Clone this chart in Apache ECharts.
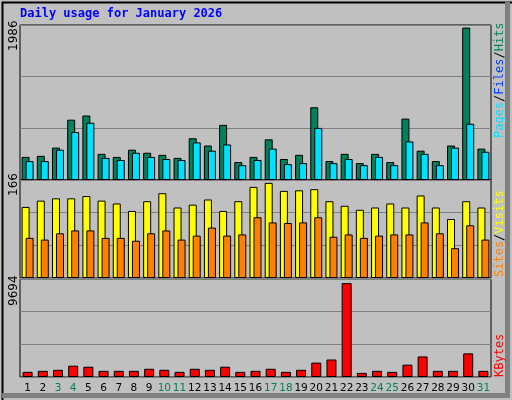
<!DOCTYPE html>
<html><head><meta charset="utf-8">
<script src="https://cdn.jsdelivr.net/npm/echarts@6/dist/echarts.min.js"></script>
<style>
html,body{margin:0;padding:0;background:#fff}
#c{width:512px;height:400px;}
</style></head><body><div id="c"></div>
<script>
const days = ['1','2','3','4','5','6','7','8','9','10','11','12','13','14','15','16','17','18','19','20','21','22','23','24','25','26','27','28','29','30','31'];
const weekend = ['3','4','10','11','17','18','24','25','31'];
const hits = [301,315,422,786,840,341,301,395,355,328,288,544,449,719,234,301,530,274,328,948,247,341,220,341,234,800,382,247,449,1986,409];
const files = [247,247,395,625,746,288,261,355,301,274,261,490,382,463,193,261,409,207,220,679,220,274,193,301,193,503,341,193,422,733,368];
const pages = [85,85,95,110,95,95,90,80,110,110,95,110,120,110,95,110,110,110,110,135,110,140,80,95,100,130,140,110,85,110,100];
const sites = [124,135,139,139,143,135,130,117,134,148,123,128,137,117,134,159,166,152,153,155,134,126,119,123,130,123,144,123,103,134,123];
const visits = [70,67,78,83,83,70,70,65,78,83,67,74,88,74,76,106,97,96,97,106,72,76,70,74,76,76,97,78,52,92,67];
const kbytes = [531,637,743,1168,1061,637,637,637,849,743,531,849,743,1061,531,637,849,531,743,1486,1804,9694,425,637,531,1274,2123,637,637,2441,637];

const ch = echarts.init(document.getElementById('c'));
const grids = [
  {left:20,right:21,top:25,height:155},
  {left:20,right:21,top:180,height:98},
  {left:20,right:21,top:279,height:98}
].map(g=>Object.assign(g,{show:true,backgroundColor:'#c0c0c0',borderColor:'#000',borderWidth:1}));
const maxes=[2020,171,10120];
function xa(i,show){return {type:'category',gridIndex:i,data:days,show:show,boundaryGap:true,
  axisLine:{show:false},axisTick:{show:false},
  axisLabel:{show:show,interval:0,hideOverlap:false,margin:6,fontFamily:'DejaVu Sans',fontSize:10.5,
    color:function(v){return weekend.indexOf(v)>=0?'#00805c':'#000';}}};}
function ya(i){return {type:'value',gridIndex:i,min:0,max:maxes[i],interval:maxes[i]/3,
  axisLabel:{show:false},axisLine:{show:false},axisTick:{show:false},
  splitLine:{show:true,lineStyle:{color:'#808080',width:1}}};}
const bs={borderColor:'#000',borderWidth:1};
const mono='12px "DejaVu Sans Mono"';
function vt(x,y,style){return {type:'text',x:x,y:y,rotation:Math.PI/2,style:Object.assign({font:mono,verticalAlign:'top',align:'left'},style)};}
ch.setOption({
  backgroundColor:'#c0c0c0',
  animation:false,
  grid:grids,
  xAxis:[xa(0,false),xa(1,false),xa(2,true),xa(0,false)],
  yAxis:[ya(0),ya(1),ya(2),Object.assign(ya(0),{show:false})],
  series:[
    {type:'bar',xAxisIndex:0,yAxisIndex:0,data:hits,barWidth:8,barGap:'-50%',itemStyle:Object.assign({color:'#00805c'},bs)},
    {type:'bar',xAxisIndex:0,yAxisIndex:0,data:files,barWidth:8,barGap:'-50%',itemStyle:Object.assign({color:'#00e0ff'},bs)},
    {type:'bar',xAxisIndex:3,yAxisIndex:3,data:pages,barWidth:2,z:1,itemStyle:{color:'#0040ff',borderColor:'#000',borderWidth:0.5}},
    {type:'bar',xAxisIndex:1,yAxisIndex:1,data:sites,barWidth:8,barGap:'-50%',itemStyle:Object.assign({color:'#ffff00'},bs)},
    {type:'bar',xAxisIndex:1,yAxisIndex:1,data:visits,barWidth:8,barGap:'-50%',itemStyle:Object.assign({color:'#ff8000'},bs)},
    {type:'bar',xAxisIndex:2,yAxisIndex:2,data:kbytes,barWidth:10,itemStyle:Object.assign({color:'#ff0000'},bs)}
  ],
  graphic:[
    {type:'rect',left:0,top:0,shape:{width:512,height:400},style:{fill:'none',stroke:'#000',lineWidth:2},silent:true},
    {type:'rect',left:505,top:2,shape:{width:5,height:396},style:{fill:'#808080'},silent:true},
    {type:'rect',left:2,top:393,shape:{width:508,height:5},style:{fill:'#808080'},silent:true},
    {type:'text',left:20,top:8,style:{text:'Daily usage for January 2026',fill:'#0000ff',font:'bold 12px "DejaVu Sans Mono"'}},
    vt(8,51,{text:'1986',fill:'#000',font:'12px "DejaVu Sans"'}),
    vt(8,196,{text:'166',fill:'#000',font:'12px "DejaVu Sans"'}),
    vt(8,306,{text:'9694',fill:'#000',font:'12px "DejaVu Sans"'}),
    vt(494,138,{text:'{p|Pages}{s|/}{f|Files}{s|/}{h|Hits}',
      rich:{p:{fill:'#00e0ff',font:mono},f:{fill:'#0040ff',font:mono},h:{fill:'#00805c',font:mono},s:{fill:'#000',font:mono}}}),
    vt(494,277,{text:'{a|Sites}{s|/}{b|Visits}',
      rich:{a:{fill:'#ff8000',font:mono},b:{fill:'#ffff00',font:mono},s:{fill:'#000',font:mono}}}),
    vt(494,377,{text:'KBytes',fill:'#ff0000'})
  ]
});
</script></body></html>
